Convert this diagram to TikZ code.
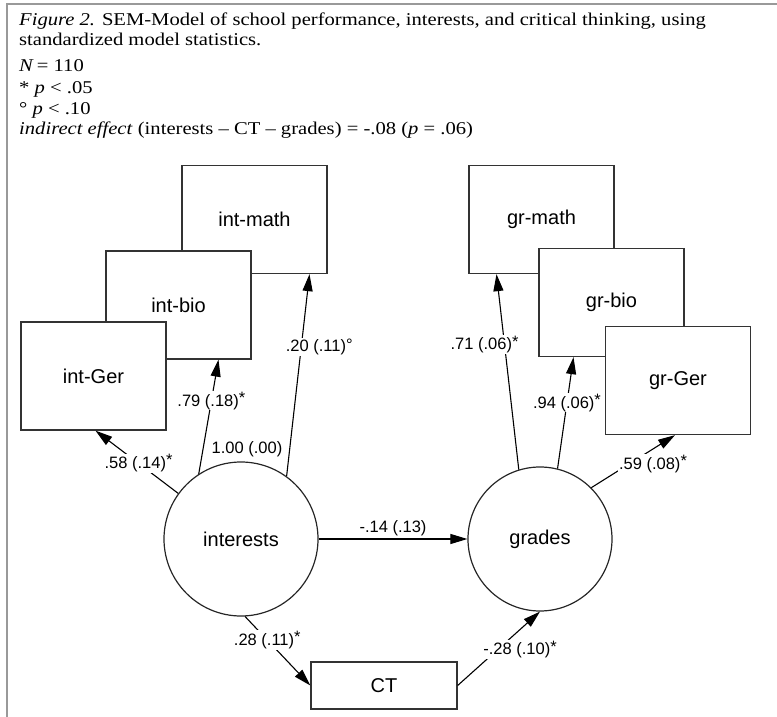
\documentclass[tikz,border=0pt]{standalone}
\usepackage{fontspec}
\setmainfont{Liberation Serif}[FakeStretch=1.145]
\newfontfamily\diagfont{Liberation Sans}
\usetikzlibrary{arrows.meta}
\newcommand\sig{\raisebox{2.5pt}{*}}

\begin{document}
\begin{tikzpicture}[x=1pt,y=-1pt,
  var/.style={draw=black!80,line width=1.3pt,fill=white,minimum width=145pt,minimum height=108pt,font=\diagfont\fontsize{20}{24}\selectfont},
  latent/.style={draw=black!85,line width=1.2pt,circle,inner sep=0pt,font=\diagfont\fontsize{20}{24}\selectfont},
  effect/.style={line width=1.1pt,-{Triangle[length=17pt,width=10pt]}},
  coef/.style={fill=white,inner sep=1pt,font=\diagfont\fontsize{16.5}{18}\selectfont},
  capline/.style={anchor=base west,inner sep=0pt,font=\fontsize{18}{21}\selectfont}]
  \useasboundingbox (0,0) rectangle (777,717);
  \draw[black!40,line width=2pt] (777,4) -- (7,4) -- (7,717);
  % caption and notes
  \node[capline] (cap1) at (19,26) {\textit{Figure 2.} SEM-Model of school performance, interests, and critical thinking, using};
  \node[capline] (cap2) at (19,46) {standardized model statistics.};
  \node[capline] (cap3) at (19,72) {\textit{N}\,= 110};
  \node[capline] (cap4) at (19,93) {* \textit{p} < .05};
  \node[capline] (cap5) at (19,114) {° \textit{p} < .10};
  \node[capline] (cap6) at (19,134) {\textit{indirect effect} (interests – CT – grades) = -.08 (\textit{p} = .06)};
  % indicators
  \node[var] (intmath) at (254.5,219.5) {int-math};
  \node[var] (intbio) at (178.5,305) {int-bio};
  \node[var] (intger) at (93.5,376) {int-Ger};
  \node[var] (grmath) at (541.5,219.5) {gr-math};
  \node[var] (grbio) at (611.5,302.5) {gr-bio};
  \node[var] (grger) at (678,380.5) {gr-Ger};
  % latent variables and CT
  \node[latent,minimum size=154pt] (interests) at (241,539) {interests};
  \node[latent,minimum size=144pt] (grades) at (540,539) {grades};
  \node[var,minimum width=146pt,minimum height=47pt] (ct) at (384,685.5) {CT};
  % loadings
  \draw[effect] (interests.144) -- node[coef,pos=0.48] {.58 (.14)\sig} ([xshift=2pt]intger.south);
  \draw[effect] (interests.123) -- node[coef,pos=0.64] {.79 (.18)\sig} ([xshift=40pt]intbio.south);
  \draw[effect] (interests.54) -- node[coef,pos=0.64,xshift=18pt] {.20 (.11)\raisebox{1pt}{°}} ([xshift=55pt]intmath.south);
  \node[coef,fill=none] (fixed) at (247,449) {1.00 (.00)};
  \draw[effect] (grades.107) -- node[coef,pos=0.64,xshift=-20pt] {.71 (.06)\sig} ([xshift=-45pt]grmath.south);
  \draw[effect] (grades.76) -- node[coef,pos=0.59] {.94 (.06)\sig} ([xshift=-38pt]grbio.south);
  \draw[effect] (grades.45) -- node[coef,pos=0.45,xshift=24pt] {.59 (.08)\sig} ([xshift=-3pt]grger.south);
  % structural paths
  \draw[effect] (interests) -- node[coef,fill=none,above,yshift=2pt] {-.14 (.13)} (grades);
  \draw[effect] (interests.-87) -- node[coef,pos=0.34] {.28 (.11)\sig} (ct.west);
  \draw[effect] (ct.east) -- node[coef,pos=0.49,xshift=22pt] {-.28 (.10)\sig} (grades.-90);
\end{tikzpicture}
\end{document}
